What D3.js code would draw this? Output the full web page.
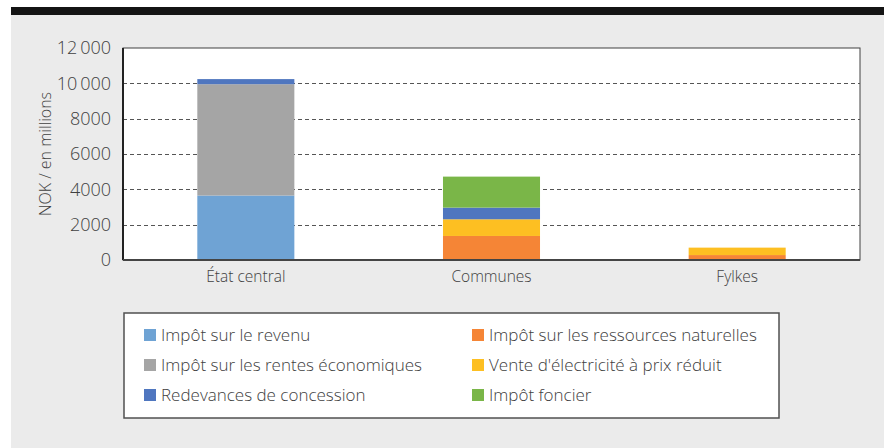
<!DOCTYPE html>
<html>
<head>
<meta charset="utf-8">
<script src="https://cdn.jsdelivr.net/npm/d3@7"></script>
<style>
  body { margin: 0; background: #fff; }
  text { font-family: "Open Sans", Lato, sans-serif; font-weight: 300; fill: #404040; }
</style>
</head>
<body>
<div id="chart"></div>
<script>
// categories and series (NOK millions)
var categories = ["État central", "Communes", "Fylkes"];
var impotRevenu      = [3650, 0, 0];
var ressources       = [0, 1360, 280];
var venteElec        = [0, 945, 420];
var redevances       = [290, 660, 0];
var rentes           = [6300, 0, 0];
var foncier          = [0, 1755, 0];
var tickValues = [0, 2000, 4000, 6000, 8000, 10000, 12000];
var tickLabels = ["0", "2000", "4000", "6000", "8000", "10\u2009000", "12\u2009000"];

var colors = {
  "Impôt sur le revenu": "#6fa3d4",
  "Impôt sur les rentes économiques": "#a5a5a5",
  "Redevances de concession": "#4f76bf",
  "Impôt sur les ressources naturelles": "#f58536",
  "Vente d'électricité à prix réduit": "#fdbf22",
  "Impôt foncier": "#7ab648"
};
// stack order: bottom to top
var stackOrder = [
  "Impôt sur le revenu",
  "Impôt sur les ressources naturelles",
  "Vente d'électricité à prix réduit",
  "Impôt sur les rentes économiques",
  "Redevances de concession",
  "Impôt foncier"
];
var valuesByName = {
  "Impôt sur le revenu": impotRevenu,
  "Impôt sur les ressources naturelles": ressources,
  "Vente d'électricité à prix réduit": venteElec,
  "Redevances de concession": redevances,
  "Impôt sur les rentes économiques": rentes,
  "Impôt foncier": foncier
};
var legendOrder = [
  "Impôt sur le revenu", "Impôt sur les ressources naturelles",
  "Impôt sur les rentes économiques", "Vente d'électricité à prix réduit",
  "Redevances de concession", "Impôt foncier"
];

var W = 886, H = 448;
var svg = d3.select("#chart").append("svg")
    .attr("width", W).attr("height", H);

// panel background + top bar
svg.append("rect").attr("x", 11).attr("y", 7).attr("width", 873).attr("height", H - 7)
    .attr("fill", "#ebebeb");
svg.append("rect").attr("x", 11).attr("y", 7).attr("width", 873).attr("height", 8)
    .attr("fill", "#141414");

var margin = {left: 123, top: 48, right: 26, bottom: 188};
var pw = W - margin.left - margin.right,
    ph = H - margin.top - margin.bottom;

var g = svg.append("g").attr("transform", `translate(${margin.left},${margin.top})`);

var x = d3.scaleBand().domain(categories).range([0, pw]).padding(0);
var y = d3.scaleLinear().domain([0, 12000]).range([ph, 0]);

g.append("rect").attr("width", pw).attr("height", ph)
    .attr("fill", "#fff").attr("stroke", "#404040").attr("stroke-width", 1);

// gridlines
g.selectAll(".grid")
  .data(tickValues.filter(function(d) { return d > 0 && d < 12000; }))
  .enter().append("line")
    .attr("x1", 0).attr("x2", pw)
    .attr("y1", function(d) { return Math.round(y(d)) + 0.5; })
    .attr("y2", function(d) { return Math.round(y(d)) + 0.5; })
    .attr("stroke", "#555").attr("stroke-width", 1)
    .attr("stroke-dasharray", "4,3");

// stacked bars
var rows = categories.map(function(c, i) {
  var r = {cat: c};
  stackOrder.forEach(function(s) { r[s] = valuesByName[s][i]; });
  return r;
});
var stacked = d3.stack().keys(stackOrder)(rows);
var bw = x.bandwidth() * 0.395;

g.selectAll(".layer")
  .data(stacked)
  .enter().append("g")
    .attr("fill", function(d) { return colors[d.key]; })
  .selectAll("rect")
  .data(function(d) { return d; })
  .enter().append("rect")
    .attr("x", function(d) { return x(d.data.cat) + (x.bandwidth() - bw) / 2; })
    .attr("width", bw)
    .attr("y", function(d) { return y(d[1]); })
    .attr("height", function(d) { return y(d[0]) - y(d[1]); });

// axes
var yAxis = g.append("g")
    .call(d3.axisLeft(y).tickValues(tickValues).tickSize(0).tickPadding(12)
      .tickFormat(function(d, i) { return tickLabels[i]; }));
yAxis.select(".domain").remove();
yAxis.selectAll("text").style("font-size", "18px").attr("fill", "#404040");

g.append("line").attr("x1", 0).attr("x2", 0).attr("y1", 0).attr("y2", ph)
    .attr("stroke", "#222").attr("stroke-width", 2);
g.append("line").attr("x1", 0).attr("x2", pw).attr("y1", ph).attr("y2", ph)
    .attr("stroke", "#444").attr("stroke-width", 2);

var xAxis = g.append("g").attr("transform", `translate(0,${ph})`)
    .call(d3.axisBottom(x).tickSize(0).tickPadding(11));
xAxis.select(".domain").remove();
xAxis.selectAll("text").style("font-size", "15.5px").attr("fill", "#404040");

// y title
svg.append("text")
    .attr("transform", `translate(51,${margin.top + ph / 2}) rotate(-90)`)
    .attr("text-anchor", "middle")
    .style("font-size", "16px")
    .text("NOK / en millions");

// legend
var lg = svg.append("g");
lg.append("rect").attr("x", 124).attr("y", 313).attr("width", 655).attr("height", 105)
    .attr("fill", "#fff").attr("stroke", "#505050").attr("stroke-width", 1.5);

var items = lg.selectAll(".item")
  .data(legendOrder)
  .enter().append("g")
    .attr("transform", function(d, i) {
      var col = i % 2, row = Math.floor(i / 2);
      return `translate(${col ? 472 : 144},${335 + row * 30})`;
    });
items.append("rect").attr("x", 0).attr("y", -6).attr("width", 12).attr("height", 12)
    .attr("fill", function(d) { return colors[d]; });
items.append("text").attr("x", 17).attr("dy", "0.35em")
    .style("font-size", "17px")
    .text(function(d) { return d; });
</script>
</body>
</html>
